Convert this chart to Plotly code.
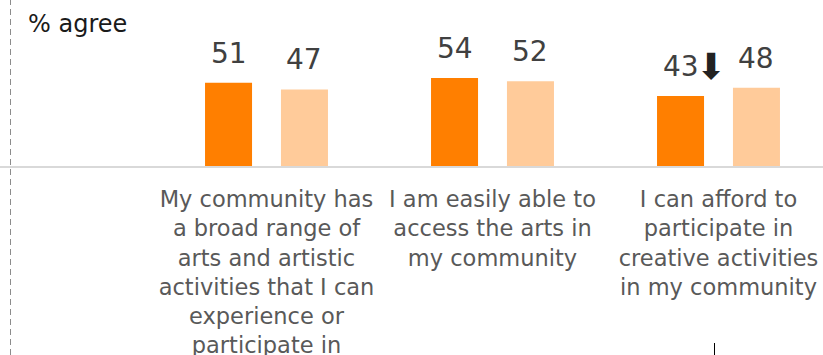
import plotly.graph_objects as go

# Survey statements (categories) and % agree for two groups
categories = [
    "My community has<br>a broad range of<br>arts and artistic<br>activities that I can<br>experience or<br>participate in",
    "I am easily able to<br>access the arts in<br>my community",
    "I can afford to<br>participate in<br>creative activities<br>in my community",
]
series_a = [51, 54, 43]   # dark orange
series_b = [47, 52, 48]   # light orange
# significant decrease marker per category for series A
sig_down_a = [False, False, True]

x_pos = [0, 1, 2]
BAR_W = 0.208
OFF_A = -0.272
OFF_B = 0.064

DARK = "#FF7F00"
LIGHT = "#FFCB9A"
FONT = "DejaVu Sans"

fig = go.Figure()
fig.add_trace(go.Bar(x=x_pos, y=series_a, width=BAR_W, offset=OFF_A,
                     marker=dict(color=DARK, line=dict(width=0)), hoverinfo="skip"))
fig.add_trace(go.Bar(x=x_pos, y=series_b, width=BAR_W, offset=OFF_B,
                     marker=dict(color=LIGHT, line=dict(width=0)), hoverinfo="skip"))

annotations = []
for xi, va, vb, sd in zip(x_pos, series_a, series_b, sig_down_a):
    ca = xi + OFF_A + BAR_W / 2
    cb = xi + OFF_B + BAR_W / 2
    annotations.append(dict(x=ca, y=va, text=str(va), showarrow=False, xref="x", yref="y",
                            yanchor="bottom", yshift=11,
                            font=dict(family=FONT, size=28, color="#404040")))
    annotations.append(dict(x=cb, y=vb, text=str(vb), showarrow=False, xref="x", yref="y",
                            yanchor="bottom", yshift=11,
                            font=dict(family=FONT, size=28, color="#404040")))
    if sd:
        annotations.append(dict(x=ca, y=va, text="⬇", showarrow=False, xref="x", yref="y",
                                xanchor="left", yanchor="bottom", xshift=13, yshift=7,
                                font=dict(family=FONT, size=36, color="#222222")))

annotations.append(dict(x=26 / 823, y=1, xref="paper", yref="paper", text="% agree",
                        showarrow=False, xanchor="left", yanchor="top", yshift=-8,
                        font=dict(family=FONT, size=24, color="#1a1a1a")))

plot_h = 166
shapes = [
    dict(type="line", xref="paper", yref="paper", x0=10.5 / 823, x1=10.5 / 823,
         y0=-(355 - plot_h) / plot_h, y1=1,
         line=dict(color="#8c8c8c", width=1, dash="6px,4px")),
    dict(type="line", xref="paper", yref="paper", x0=714.5 / 823, x1=714.5 / 823,
         y0=-(343 - plot_h) / plot_h, y1=-(355 - plot_h) / plot_h,
         line=dict(color="#000000", width=1)),
]

fig.update_layout(
    width=823, height=355,
    margin=dict(l=0, r=0, t=0, b=355 - plot_h, pad=0, autoexpand=False),
    paper_bgcolor="white", plot_bgcolor="white",
    showlegend=False,
    barmode="overlay",
    annotations=annotations,
    shapes=shapes,
    xaxis=dict(range=[-266.5 / 226, (823 - 266.5) / 226],
               tickmode="array", tickvals=x_pos, ticktext=categories,
               showline=True, linecolor="#d9d9d9", linewidth=2,
               showgrid=False, zeroline=False, ticks="",
               ticklabelstandoff=12, automargin=False,
               tickfont=dict(family=FONT, size=22.5, color="#595959"),
               fixedrange=True),
    yaxis=dict(range=[0, plot_h / 1.63], visible=False, showgrid=False,
               zeroline=False, fixedrange=True, automargin=False),
)

fig.write_html("out.html")
